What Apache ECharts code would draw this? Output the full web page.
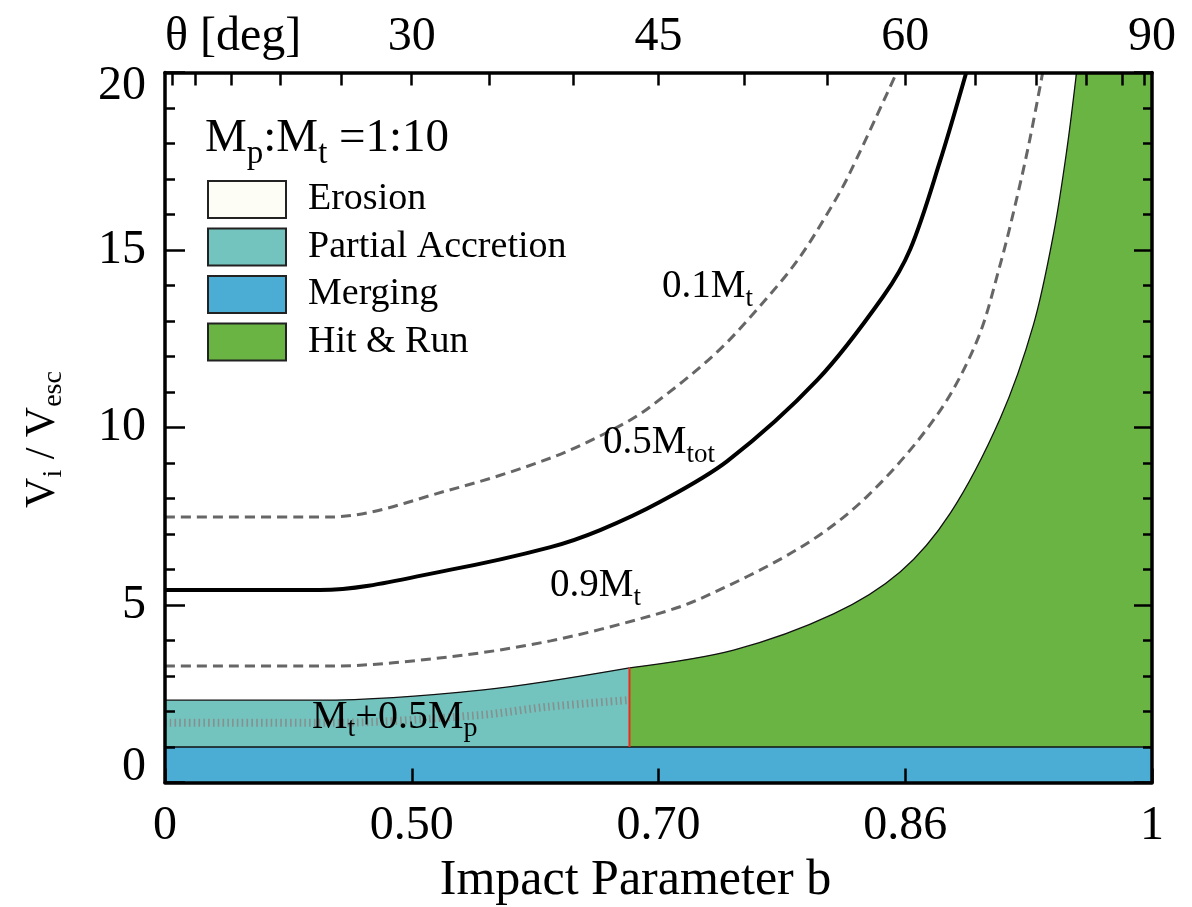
<!DOCTYPE html>
<html>
<head>
<meta charset="utf-8">
<script src="https://cdn.jsdelivr.net/npm/echarts@6/dist/echarts.min.js"></script>
<style>
html,body{margin:0;padding:0;background:#ffffff;}
#chart{width:1192px;height:907px;}
</style>
</head>
<body>
<div id="chart"></div>
<script>
// ================= DATA =================
// bottom axis: impact parameter b (axis is linear in b^2)
const bTickLabels = ['0', '0.50', '0.70', '0.86', '1'];
// top axis: impact angle theta (b = sin theta)
const thetaLabelDeg = [0, 30, 45, 60, 90];
const thetaLabels = ['θ [deg]', '30', '45', '60', '90'];
const thetaMinorDeg = [5, 10, 15, 20, 25, 30, 35, 40, 45, 50, 55, 60, 65, 70, 75, 80, 85];

// Merging / partial accretion border
const mergeV = 1.0;
// partial accretion | hit & run split (red line)
const splitB = 0.686;

// upper boundary of partial accretion / hit & run
const boundaryB = [0, 0.396, 0.568, 0.686, 0.759, 0.823, 0.863, 0.892, 0.920, 0.938, 0.949, 0.956, 0.961];
const boundaryV = [2.32, 2.32, 2.61, 3.23, 3.73, 4.75, 5.93, 7.59, 10.27, 12.89, 15.51, 17.87, 20.0];

// M_t + 0.5 M_p (dotted)
const dotB = [0, 0.409, 0.565, 0.622, 0.685];
const dotV = [1.68, 1.68, 1.90, 2.13, 2.32];

// 0.1 M_t (dashed)
const m01B = [0, 0.409, 0.537, 0.625, 0.677, 0.701, 0.748, 0.781, 0.802, 0.823, 0.833, 0.861];
const m01V = [7.48, 7.48, 8.24, 9.14, 10.01, 10.58, 12.13, 13.65, 14.80, 16.32, 17.17, 20.0];

// 0.5 M_tot (solid)
const m05B = [0, 0.396, 0.537, 0.625, 0.664, 0.708, 0.755, 0.813, 0.853, 0.869, 0.886, 0.901];
const m05V = [5.42, 5.42, 5.99, 6.63, 7.11, 7.90, 9.06, 11.34, 13.69, 15.03, 17.48, 20.0];

// 0.9 M_t (dashed)
const m09B = [0, 0.409, 0.537, 0.625, 0.701, 0.736, 0.802, 0.843, 0.884, 0.907, 0.920, 0.929, 0.936, 0.943];
const m09V = [3.28, 3.28, 3.54, 3.99, 4.69, 5.17, 6.61, 8.04, 10.32, 12.44, 14.61, 16.46, 18.10, 20.0];

// ================= BUILD =================
const F = '"Liberation Serif", "DejaVu Serif", serif';
const TEAL = '#73C4BE', BLUE = '#4BADD4', GREEN = '#6AB443', ERO = '#FDFDF6';
const ax = b => b * b;                       // axis coordinate (b^2)
const pts = (B, V) => B.map((b, i) => [ax(b), V[i]]);
const sinSq = d => { const s = Math.sin(d * Math.PI / 180); return s * s; };
const thetaLabelPos = thetaLabelDeg.map(sinSq);

const tealData = pts(boundaryB, boundaryV).filter((p, i) => boundaryB[i] <= splitB + 1e-9);
const greenData = pts(boundaryB, boundaryV).filter((p, i) => boundaryB[i] >= splitB - 1e-9);
// top-right corner of hit & run (above the boundary's last point), slightly overlapped to avoid a seam
const greenTopData = [[ax(boundaryB[boundaryB.length - 1]) - 0.0008, 20], [1, 20]];
const splitIdx = boundaryB.indexOf(splitB);

function rich(S, sub, pad) {
  return {
    m: { fontFamily: F, fontSize: S, color: '#000' },
    s: { fontFamily: F, fontSize: sub, color: '#000', padding: [pad, 0, 0, 0] }
  };
}
function txt(x, y, text, S, sub, pad) {
  return { type: 'text', x: x, y: y, z: 100, zlevel: 0,
    style: { text: text, rich: rich(S, sub, pad), align: 'left', verticalAlign: 'middle', textAlign: 'left', textVerticalAlign: 'middle' } };
}

const axisLineStyle = { color: '#000', width: 3.5 };
const tickStyle = { color: '#000', width: 2.5 };
const curveSmooth = 0.33;

const option = {
  animation: false,
  backgroundColor: '#ffffff',
  grid: { left: 165, right: 40, top: 72.5, bottom: 124.5, containLabel: false, outerBoundsMode: 'none' },
  legend: {
    orient: 'vertical', left: 207, top: 180, padding: 0,
    itemWidth: 78, itemHeight: 37, itemGap: 8.5, icon: 'rect', selectedMode: false,
    itemStyle: { borderColor: '#222', borderWidth: 2 },
    textStyle: { fontFamily: F, fontSize: 38, color: '#000', lineHeight: 37, padding: [0, 0, 0, 17] },
    data: [
      { name: 'Erosion', itemStyle: { color: ERO } },
      { name: 'Partial Accretion', itemStyle: { color: TEAL } },
      { name: 'Merging', itemStyle: { color: BLUE } },
      { name: 'Hit & Run', itemStyle: { color: GREEN } }
    ]
  },
  xAxis: [
    {
      type: 'value', position: 'bottom', min: 0, max: 1, interval: 0.25, z: 10,
      axisLine: { show: true, onZero: false, lineStyle: axisLineStyle },
      axisTick: { show: true, inside: true, length: 14, lineStyle: tickStyle },
      axisLabel: { fontFamily: F, fontSize: 48, color: '#000', margin: 20,
        formatter: v => bTickLabels[Math.round(v * 4)] },
      splitLine: { show: false },
      name: 'Impact Parameter b', nameLocation: 'middle', nameGap: 73,
      nameTextStyle: { fontFamily: F, fontSize: 50, color: '#000', padding: [0, 46, 0, 0] }
    },
    {
      type: 'value', position: 'top', min: 0, max: 1, z: 10,
      axisLine: { show: true, onZero: false, lineStyle: axisLineStyle },
      axisTick: { show: true, inside: true, length: 13, lineStyle: tickStyle,
        customValues: thetaMinorDeg.map(sinSq) },
      axisLabel: { fontFamily: F, fontSize: 48, color: '#000', margin: 11,
        customValues: thetaLabelPos, alignMinLabel: 'left',
        formatter: v => { const i = thetaLabelPos.findIndex(p => Math.abs(p - v) < 1e-6); return i >= 0 ? thetaLabels[i] : ''; } },
      splitLine: { show: false }
    }
  ],
  yAxis: [
    {
      type: 'value', position: 'left', min: 0, max: 20, interval: 5, z: 10,
      axisLine: { show: true, onZero: false, lineStyle: axisLineStyle },
      axisTick: { show: true, inside: true, length: 20, lineStyle: tickStyle },
      minorTick: { show: true, splitNumber: 5, length: 10, lineStyle: tickStyle },
      axisLabel: { fontFamily: F, fontSize: 48, color: '#000', margin: 19,
        formatter: v => v === 20 ? '{t|20}' : (v === 0 ? '{b|0}' : String(v)),
        rich: {
          t: { fontFamily: F, fontSize: 48, color: '#000', padding: [27, 0, 0, 0] },
          b: { fontFamily: F, fontSize: 48, color: '#000', padding: [0, 0, 31, 0] }
        } },
      splitLine: { show: false }, minorSplitLine: { show: false },
      name: '{m|V}{s|i}{m| / V}{s|esc}', nameLocation: 'middle', nameGap: 97,
      nameTextStyle: { fontFamily: F, fontSize: 42, color: '#000', padding: [0, 24, 0, 0], rich: rich(42, 28, 22) }
    },
    {
      type: 'value', position: 'right', min: 0, max: 20, interval: 5, z: 10,
      axisLine: { show: true, onZero: false, lineStyle: axisLineStyle },
      axisTick: { show: true, inside: true, length: 18, lineStyle: tickStyle },
      minorTick: { show: true, splitNumber: 5, length: 9, lineStyle: tickStyle },
      axisLabel: { show: false },
      splitLine: { show: false }, minorSplitLine: { show: false }
    }
  ],
  series: [
    { name: 'Erosion', type: 'line', data: [[0, 20], [1, 20]], symbol: 'none', color: ERO,
      lineStyle: { width: 0 }, z: 1, silent: true },
    { name: 'Partial Accretion', type: 'line', data: tealData, symbol: 'none', smooth: curveSmooth, color: TEAL,
      lineStyle: { color: '#111', width: 1.3 }, areaStyle: { color: TEAL, opacity: 1 }, z: 2, silent: true },
    { name: 'Hit & Run top', type: 'line', data: greenTopData, symbol: 'none', color: GREEN,
      lineStyle: { width: 0 }, areaStyle: { color: GREEN, opacity: 1 }, z: 2, silent: true },
    { name: 'Hit & Run', type: 'line', data: greenData, symbol: 'none', smooth: curveSmooth, color: GREEN,
      lineStyle: { color: '#111', width: 1.3 }, areaStyle: { color: GREEN, opacity: 1 }, z: 2, silent: true },
    { name: 'Merging', type: 'line', data: [[0, mergeV], [1, mergeV]], symbol: 'none', color: BLUE,
      lineStyle: { color: '#111', width: 1.3 }, areaStyle: { color: BLUE, opacity: 1 }, z: 3, silent: true },
    { name: 'split', type: 'line', data: [[ax(splitB), mergeV], [ax(splitB), boundaryV[splitIdx]]], symbol: 'none',
      lineStyle: { color: '#F0281E', width: 2 }, z: 4, silent: true },
    { name: 'Mt+0.5Mp', type: 'line', data: pts(dotB, dotV), symbol: 'none', smooth: curveSmooth,
      lineStyle: { color: '#86908f', width: 8, type: [1.6, 3.2], cap: 'butt' }, z: 5, silent: true },
    { name: '0.9Mt', type: 'line', data: pts(m09B, m09V), symbol: 'none', smooth: curveSmooth,
      lineStyle: { color: '#666', width: 3, type: [10, 6] }, z: 5, silent: true },
    { name: '0.1Mt', type: 'line', data: pts(m01B, m01V), symbol: 'none', smooth: curveSmooth,
      lineStyle: { color: '#666', width: 3, type: [10, 6] }, z: 5, silent: true },
    { name: '0.5Mtot', type: 'line', data: pts(m05B, m05V), symbol: 'none', smooth: curveSmooth,
      lineStyle: { color: '#000', width: 4 }, z: 6, silent: true }
  ],
  graphic: [
    txt(205, 139, '{m|M}{s|p}{m|:M}{s|t}{m| =1:10}', 47, 33, 30),
    txt(662, 287, '{m|0.1M}{s|t}', 39, 27, 24),
    txt(603, 443, '{m|0.5M}{s|tot}', 39, 27, 24),
    txt(550, 586, '{m|0.9M}{s|t}', 39, 27, 24),
    txt(312, 717, '{m|M}{s|t}{m|+0.5M}{s|p}', 40, 28, 24)
  ]
};

const chart = echarts.init(document.getElementById('chart'), null, { renderer: 'canvas' });
chart.setOption(option);
</script>
</body>
</html>
